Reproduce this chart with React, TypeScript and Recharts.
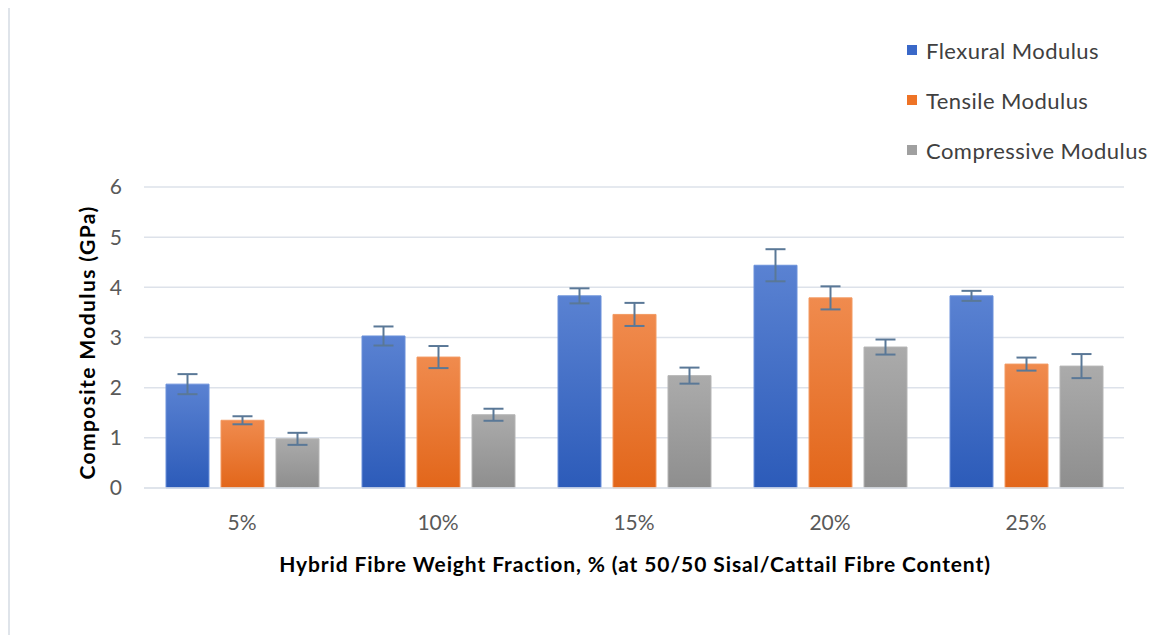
import React from 'react';
import { BarChart, Bar, XAxis, YAxis, CartesianGrid, ErrorBar } from 'recharts';

const categories = ['5%', '10%', '15%', '20%', '25%'];
const flexural = [2.07, 3.03, 3.83, 4.44, 3.83];
const flexuralErr = [0.2, 0.19, 0.15, 0.32, 0.1];
const tensile = [1.35, 2.61, 3.46, 3.79, 2.47];
const tensileErr = [0.08, 0.22, 0.23, 0.23, 0.13];
const compressive = [0.98, 1.46, 2.24, 2.81, 2.43];
const compressiveErr = [0.12, 0.12, 0.16, 0.15, 0.24];
const yTicks = [0, 1, 2, 3, 4, 5, 6];

const seriesNames = ['Flexural Modulus', 'Tensile Modulus', 'Compressive Modulus'];
const legendColors = ['#3a68c8', '#ee7326', '#a0a0a0'];

const data = categories.map((c, i) => ({
  cat: c,
  flex: flexural[i],
  flexErr: flexuralErr[i],
  ten: tensile[i],
  tenErr: tensileErr[i],
  comp: compressive[i],
  compErr: compressiveErr[i],
}));

const FONT = 'Lato, "Open Sans", sans-serif';

const LegendBox = () => (
  <div style={{ position: 'absolute', left: 897, top: 17, fontFamily: FONT, fontSize: 22, letterSpacing: 0.45, color: '#404040' }}>
    {seriesNames.map((n, i) => (
      <div key={n} style={{ height: 50, display: 'flex', alignItems: 'center', whiteSpace: 'nowrap' }}>
        <span style={{ display: 'inline-block', width: 10, height: 10, background: legendColors[i], marginRight: 9 }} />
        <span>{n}</span>
      </div>
    ))}
  </div>
);

const YLabel = (props: any) => {
  const vb = props.viewBox || {};
  const cx = 76;
  const cy = vb.y + vb.height / 2 + 5;
  return (
    <text x={cx} y={cy} transform={`rotate(-90 ${cx} ${cy})`} textAnchor="middle" dominantBaseline="central"
      style={{ fontFamily: FONT, fontWeight: 700, fontSize: 21, letterSpacing: 1.4, fill: '#000' }}>
      Composite Modulus (GPa)
    </text>
  );
};

const XLabel = (props: any) => {
  const vb = props.viewBox || {};
  const cx = vb.x + vb.width / 2 + 1;
  return (
    <text x={cx} y={564} textAnchor="middle"
      style={{ fontFamily: FONT, fontWeight: 700, fontSize: 21, letterSpacing: 0.9, fill: '#000' }}>
      Hybrid Fibre Weight Fraction, % (at 50/50 Sisal/Cattail Fibre Content)
    </text>
  );
};

export default function App() {
  return (
    <div style={{ width: 1164, height: 627, borderTop: '2px solid #dbe1e8', borderLeft: '2px solid #dfe4ea', borderRight: '1px solid #eef1f4', background: '#fff', position: 'relative', marginTop: -2 }}>
      <BarChart
        width={1164}
        height={627}
        data={data}
        margin={{ top: 179, right: 50, bottom: 0, left: 0 }}
        barCategoryGap={22}
        barGap={12}
      >
        <defs>
          <linearGradient id="gBlue" x1="0" y1="0" x2="0" y2="1">
            <stop offset="0%" stopColor="#5a82d2" />
            <stop offset="100%" stopColor="#2c5bb9" />
          </linearGradient>
          <linearGradient id="gOrange" x1="0" y1="0" x2="0" y2="1">
            <stop offset="0%" stopColor="#f08b4e" />
            <stop offset="100%" stopColor="#e2661a" />
          </linearGradient>
          <linearGradient id="gGray" x1="0" y1="0" x2="0" y2="1">
            <stop offset="0%" stopColor="#ababab" />
            <stop offset="100%" stopColor="#8e8e8e" />
          </linearGradient>
        </defs>
        <CartesianGrid vertical={false} stroke="#dde2ea" strokeWidth={1.5} />
        <XAxis
          dataKey="cat"
          height={147}
          axisLine={{ stroke: '#dde2ea', strokeWidth: 1.5 }}
          tickLine={false}
          tickMargin={21}
          tick={{ fontFamily: FONT, fontSize: 21, fill: '#595959' }}
          label={<XLabel />}
        />
        <YAxis
          width={134}
          domain={[0, 6]}
          ticks={yTicks}
          axisLine={false}
          tickLine={false}
          tickMargin={16}
          tick={{ fontFamily: FONT, fontSize: 21, fill: '#595959' }}
          label={<YLabel />}
        />
        <Bar dataKey="flex" name={seriesNames[0]} fill="url(#gBlue)" stroke="#6a90da" strokeWidth={1} isAnimationActive={false}>
          <ErrorBar dataKey="flexErr" width={10} stroke="#5a7897" strokeWidth={2} />
        </Bar>
        <Bar dataKey="ten" name={seriesNames[1]} fill="url(#gOrange)" stroke="#f29a63" strokeWidth={1} isAnimationActive={false}>
          <ErrorBar dataKey="tenErr" width={10} stroke="#5a7897" strokeWidth={2} />
        </Bar>
        <Bar dataKey="comp" name={seriesNames[2]} fill="url(#gGray)" stroke="#b5b5b5" strokeWidth={1} isAnimationActive={false}>
          <ErrorBar dataKey="compErr" width={10} stroke="#5a7897" strokeWidth={2} />
        </Bar>
      </BarChart>
      <LegendBox />
    </div>
  );
}
